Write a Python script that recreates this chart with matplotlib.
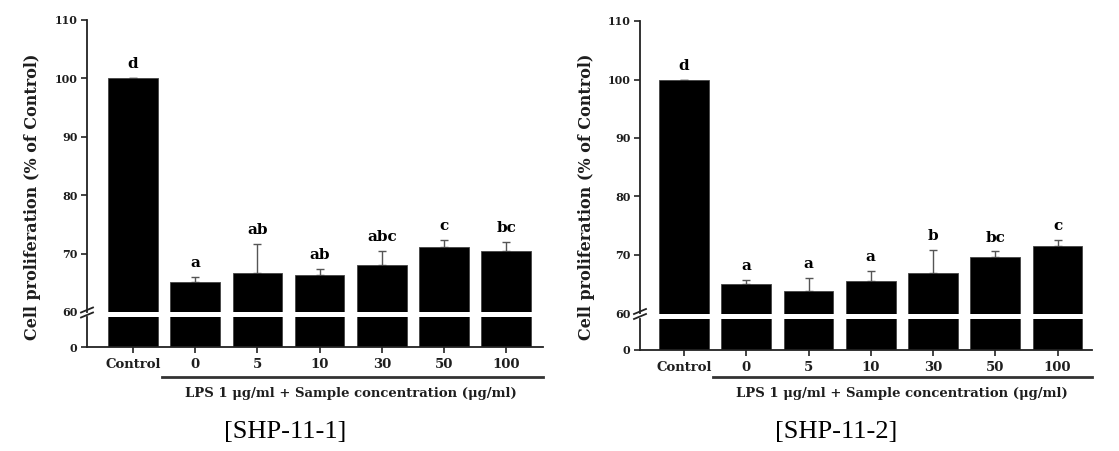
import matplotlib.pyplot as plt
from matplotlib.lines import Line2D
from matplotlib.transforms import blended_transform_factory

# groups on the x axis
groups = ['Control', '0', '5', '10', '30', '50', '100']

# SHP-11-1
shp1_mean = [100, 65.2, 66.6, 66.3, 68.0, 71.2, 70.4]
shp1_err = [0, 0.8, 5.0, 1.1, 2.5, 1.2, 1.6]
shp1_letters = ['d', 'a', 'ab', 'ab', 'abc', 'c', 'bc']

# SHP-11-2
shp2_mean = [100, 65.0, 63.8, 65.5, 67.0, 69.7, 71.5]
shp2_err = [0, 0.8, 2.2, 1.7, 3.9, 0.9, 1.1]
shp2_letters = ['d', 'a', 'a', 'a', 'b', 'bc', 'c']

upper_ticks = [60, 70, 80, 90, 100, 110]

W, H = 1119, 451
fig = plt.figure(figsize=(W / 100, H / 100), dpi=100)
plt.rcParams['font.family'] = ['DejaVu Serif']
plt.rcParams['font.weight'] = 'bold'

axis_col = '#222222'
text_col = '#1e1e1e'


def panel(spine_x, end_x, x0, step, y110, y60, ylow_top, y0, ylab_x,
          means, errs, letters, caption):
    xl = -(x0 - spine_x) / step
    xr = (end_x - x0) / step
    left = spine_x / W
    width = (end_x - spine_x) / W
    top = fig.add_axes([left, 1 - y60 / H, width, (y60 - y110) / H])
    bot = fig.add_axes([left, 1 - y0 / H, width, (y0 - ylow_top) / H])
    x = list(range(len(groups)))

    for a in (top, bot):
        a.bar(x, means, width=0.8, color='black', edgecolor='#444444',
              linewidth=0.6, zorder=2)
        a.set_xlim(xl, xr)
        a.spines['top'].set_visible(False)
        a.spines['right'].set_visible(False)
        a.spines['left'].set_color(axis_col)
        a.spines['left'].set_linewidth(1.3)
        a.tick_params(direction='out', length=4, width=1.2, color=axis_col,
                      labelsize=8, labelcolor=text_col, pad=3)

    top.spines['bottom'].set_visible(False)
    bot.spines['bottom'].set_color(axis_col)
    bot.spines['bottom'].set_linewidth(1.3)

    top.errorbar(x, means, yerr=[[0] * len(errs), errs], fmt='none',
                 ecolor='#555555', elinewidth=1, capsize=3, capthick=1,
                 zorder=1)
    top.set_ylim(60, 110)
    top.set_yticks(upper_ticks)
    top.yaxis.get_major_ticks()[0].tick1line.set_visible(False)
    top.set_xticks([])

    bot.set_ylim(0, (y0 - ylow_top) / (y60 - y110) * 50)
    bot.set_yticks([0])
    bot.set_xticks(x)
    bot.set_xticklabels(groups, fontsize=9.5)
    bot.tick_params(axis='x', pad=4)

    for i, (m, e, l) in enumerate(zip(means, errs, letters)):
        top.annotate(l, (i, m + e), xytext=(0, 5), textcoords='offset points',
                     ha='center', va='bottom', fontsize=11, color='black',
                     annotation_clip=False)

    # axis break marks
    for yy in (y60 - 2, y60 + 3):
        fig.add_artist(Line2D([(spine_x - 6) / W, (spine_x + 6) / W],
                              [1 - (yy + 2.5) / H, 1 - (yy - 2.5) / H],
                              color=axis_col, lw=1.3))

    tr = blended_transform_factory(bot.transData, fig.transFigure)
    fig.add_artist(Line2D([0.47, xr], [1 - 377 / H, 1 - 377 / H],
                          transform=tr, color='#333333', lw=2))
    fig.text(3.5, 1 - 393 / H,
             'LPS 1 \u03bcg/ml + Sample concentration (\u03bcg/ml)',
             transform=tr, ha='center', va='center', fontsize=9.5,
             color=text_col)
    fig.text(2.45, 1 - 432 / H, caption, transform=tr, ha='center',
             va='center', fontsize=19, fontweight='normal',
             family=['Liberation Serif'], color='black')
    fig.text(ylab_x / W, 1 - 197 / H, 'Cell proliferation (% of Control)',
             rotation=90, ha='center', va='center', fontsize=11.5,
             color=text_col)


panel(87, 543, 133, 62.2, 20, 312, 316.5, 347, 33,
      shp1_mean, shp1_err, shp1_letters, '[SHP-11-1]')
panel(640, 1092, 684, 62.25, 21, 313.5, 319, 349.5, 586,
      shp2_mean, shp2_err, shp2_letters, '[SHP-11-2]')

fig.savefig('out.png', dpi=100)
